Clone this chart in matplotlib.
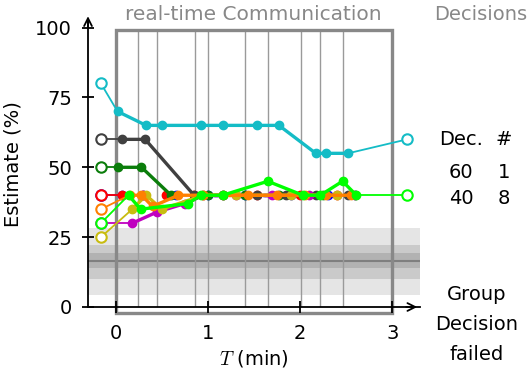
import matplotlib
matplotlib.use("Agg")
import matplotlib.pyplot as plt
from matplotlib.patches import Rectangle

plt.rcParams['font.family'] = ['DejaVu Sans']
plt.rcParams['mathtext.fontset'] = 'cm'

# ---- data ----
t_start = -0.16
t_end = 3.16
vlines_t = [0.24, 0.45, 0.86, 1.0, 1.40, 1.65, 2.01, 2.22, 2.46]

blue_init, blue_t, blue_v = 40, [0.07, 0.30, 0.65, 1.0, 1.4, 1.9, 2.3], [40, 40, 40, 40, 40, 40, 40]
red_init, red_t, red_v = 40, [0.07, 0.30, 0.55, 0.85, 1.16, 1.53, 2.0, 2.4], [40, 40, 40, 40, 40, 40, 40, 40]
green_init, green_t, green_v = 50, [0.02, 0.28, 0.60, 1.0, 1.4, 1.77, 2.25, 2.6], [50, 50, 40, 40, 40, 40, 40, 40]
gray_init, gray_t, gray_v = 60, [0.07, 0.32, 0.85, 1.16, 1.53, 1.85, 2.17, 2.52], [60, 60, 40, 40, 40, 40, 40, 40]
mag_init, mag_t, mag_v = 30, [0.18, 0.45, 0.75, 0.95, 1.3, 1.7, 2.1, 2.6], [30, 34, 37, 40, 40, 40, 40, 40]
yel_init, yel_t, yel_v = 25, [0.18, 0.33, 0.50, 0.95, 1.3, 1.9, 2.4], [35, 40, 35, 40, 40, 40, 40]
ora_init, ora_t, ora_v = 35, [0.15, 0.28, 0.40, 0.68, 0.95, 1.43, 1.75, 2.05, 2.28, 2.55], [40, 40, 36, 40, 40, 40, 40, 40, 40, 40]
lime_init, lime_t, lime_v, lime_final = 30, [0.14, 0.27, 0.78, 0.93, 1.16, 1.65, 2.03, 2.22, 2.46, 2.61], [40, 35, 37, 40, 40, 45, 40, 40, 45, 40], 40
cyan_init, cyan_t, cyan_v, cyan_final = 80, [0.02, 0.33, 0.50, 0.93, 1.16, 1.53, 1.77, 2.17, 2.28, 2.52], [70, 65, 65, 65, 65, 65, 65, 55, 55, 55], 60

failed_band_outer = (4.3, 28.3)
failed_band_mid = (10.0, 22.2)
failed_band_inner = (14.0, 19.4)
failed_line = 16.5

dec_rows = [("60", "1"), ("40", "8")]

# ---- figure ----
fig = plt.figure(figsize=(5.28, 3.74), dpi=100)
ax = fig.add_axes([88/528, 1-307/374, (420-88)/528, (307-22)/374])
ax.set_xlim(-0.30, 3.30)
ax.set_ylim(0, 102)

ax.axhspan(*failed_band_outer, color='#e5e5e5', lw=0, zorder=0)
ax.axhspan(*failed_band_mid, color='#cacaca', lw=0, zorder=0)
ax.axhspan(*failed_band_inner, color='#b2b2b2', lw=0, zorder=0)
ax.axhline(failed_line, color='#7f7f7f', lw=1.5, zorder=0)

for t in vlines_t:
    ax.plot([t, t], [0, 99], color='#9a9a9a', lw=1.0, zorder=1)
ax.add_patch(Rectangle((0, -2), 3, 101, fill=False, ec='#888888', lw=2.4, zorder=1, clip_on=False))

series = [
    ('#0000ff', blue_init, blue_t, blue_v, None, 3),
    ('#ff0000', red_init, red_t, red_v, None, 0),
    ('#0b7d0b', green_init, green_t, green_v, None, 6),
    ('#404040', gray_init, gray_t, gray_v, None, 9),
    ('#c000c0', mag_init, mag_t, mag_v, None, 12),
    ('#c8bc10', yel_init, yel_t, yel_v, None, None),
    ('#ff8000', ora_init, ora_t, ora_v, None, None),
    ('#00ff00', lime_init, lime_t, lime_v, lime_final, None),
    ('#14bcc6', cyan_init, cyan_t, cyan_v, cyan_final, None),
]

z = 3
for color, init, ts, vs, final, dash_off in series:
    ax.plot([t_start, ts[0]], [init, vs[0]], color=color, lw=1.3, zorder=z)
    ax.plot([t_start], [init], 'o', mfc='white', mec=color, mew=1.5, ms=7.5, zorder=z + 1)
    if dash_off is None:
        ax.plot(ts, vs, '-o', color=color, lw=2.4, ms=6, zorder=z)
    else:
        k = 0
        for i in range(len(vs)):
            if all(v == vs[-1] for v in vs[i:]):
                k = i
                break
        ax.plot(ts[:k + 1], vs[:k + 1], '-', color=color, lw=2.4, zorder=z)
        ax.plot(ts[k:], vs[k:], color=color, lw=2.4, zorder=z, linestyle=(dash_off, (3, 12)))
        ax.plot(ts, vs, 'o', color=color, ms=6, zorder=z)
    if final is not None:
        ax.plot([ts[-1], t_end], [vs[-1], final], color=color, lw=1.3, zorder=z)
        ax.plot([t_end], [final], 'o', mfc='white', mec=color, mew=1.5, ms=7.5, zorder=z + 1)
    z += 2

# axes styling
for s in ['top', 'right']:
    ax.spines[s].set_visible(False)
ax.spines['left'].set_linewidth(1.3)
ax.spines['bottom'].set_linewidth(1.3)
ax.annotate('', xy=(0, 1.03), xytext=(0, 0.97), xycoords='axes fraction',
            arrowprops=dict(arrowstyle='->', lw=1.3, color='black', mutation_scale=14))
ax.annotate('', xy=(1.0, 0), xytext=(0.95, 0), xycoords='axes fraction',
            arrowprops=dict(arrowstyle='->', lw=1.3, color='black', mutation_scale=14))
ax.set_yticks([0, 25, 50, 75, 100])
ax.set_xticks([0, 1, 2, 3])
FS = 14
ax.tick_params(direction='inout', length=9, width=1.3, labelsize=FS)
ax.tick_params(axis='y', pad=7)
ax.tick_params(axis='x', pad=8)
ax.set_ylabel('Estimate (%)', fontsize=FS, labelpad=9)
ax.set_xlabel('$T$ (min)', fontsize=FS, labelpad=3)

fig.text(253/528, 1-15/374, 'real-time Communication', color='#888888', fontsize=14.5, ha='center', va='center')
fig.text(527/528, 1-15/374, 'Decisions', color='#888888', fontsize=14, ha='right', va='center')
fig.text(461/528, 1-140/374, 'Dec.', fontsize=FS, ha='center', va='center')
fig.text(504/528, 1-140/374, '#', fontsize=FS, ha='center', va='center')
for i, (d, n) in enumerate(dec_rows):
    y = 1 - (172 + 26*i)/374
    fig.text(461/528, y, d, fontsize=FS, ha='center', va='center')
    fig.text(504/528, y, n, fontsize=FS, ha='center', va='center')
for i, w in enumerate(['Group', 'Decision', 'failed']):
    fig.text(477/528, 1-(295 + 30*i)/374, w, fontsize=FS, ha='center', va='center')

fig.savefig('out.png', dpi=100)
